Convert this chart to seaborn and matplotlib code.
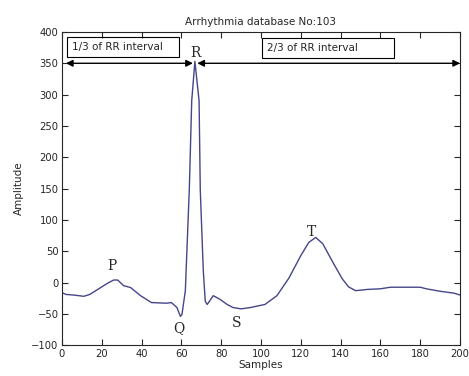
import pandas as pd
import seaborn as sns
import matplotlib.pyplot as plt

sns.set_style("ticks")
plt.rcParams['font.family'] = ['DejaVu Sans']

# ECG beat
samples = [0, 2, 6, 11, 14, 19.5, 23, 26, 28, 31, 34.5, 39.5, 45, 52.5, 55, 57.8,
           59.5, 60.3, 62, 64, 65.2, 66.8, 68.9, 69.5, 71, 72, 73, 76, 79.5, 83, 86,
           90, 94.5, 102, 108, 114, 120, 124, 127.5, 131, 136.5, 140.8, 144, 147.5,
           153.5, 160, 165, 172, 180, 183, 190, 197, 200]
amplitude = [-16, -19, -20, -22, -19, -8, -1, 4, 4, -5, -8, -21, -32, -33, -32, -40,
             -54, -51, -13, 150, 290, 353, 290, 148, 20, -30, -35, -21, -27, -35, -40,
             -42, -40, -35, -21, 7, 43, 64, 72, 62, 30, 6, -7, -13,
             -11, -10, -7.5, -7.5, -7.5, -10, -14, -17, -20]

wave_names = ['P', 'Q', 'R', 'S', 'T']
wave_x = [25, 59, 67, 88, 125.5]
wave_y = [27, -73, 367, -65, 80]

df = pd.DataFrame({'Samples': samples, 'Amplitude': amplitude})

fig = plt.figure(figsize=(4.69, 3.76), dpi=100)
ax = fig.add_axes([0.132, 0.082, 0.849, 0.833])
sns.lineplot(data=df, x='Samples', y='Amplitude', color='#45458a', lw=1, ax=ax)

ax.set_xlim(0, 200)
ax.set_ylim(-100, 400)
ax.set_xticks(range(0, 201, 20))
ax.set_yticks(range(-100, 401, 50))
ax.tick_params(direction='in', top=True, right=True, labelsize=7.2, length=4, width=0.8,
               pad=2.5)
for s in ax.spines.values():
    s.set_linewidth(0.8)
ax.set_title('Arrhythmia database No:103', fontsize=7.5, pad=5)
ax.set_xlabel('Samples', fontsize=7.5, labelpad=1)
ax.set_ylabel('Amplitude', fontsize=7.5, labelpad=5)

for n, x, y in zip(wave_names, wave_x, wave_y):
    ax.text(x, y, n, family='serif', fontsize=10, ha='center', va='center')

# RR interval arrows
ax.annotate('', xy=(2, 350), xytext=(65.8, 350),
            arrowprops=dict(arrowstyle='<|-|>', color='black', lw=1, mutation_scale=10,
                            shrinkA=0, shrinkB=0))
ax.annotate('', xy=(68, 350), xytext=(200, 350),
            arrowprops=dict(arrowstyle='<|-|>', color='black', lw=1, mutation_scale=10,
                            shrinkA=0, shrinkB=0))
ax.add_patch(plt.Rectangle((2.5, 360), 56.5, 32, fill=False, edgecolor='black',
                           lw=0.8, clip_on=False))
ax.text(5, 376, '1/3 of RR interval', fontsize=7.5, va='center')
ax.add_patch(plt.Rectangle((100.5, 358), 66.5, 32, fill=False, edgecolor='black',
                           lw=0.8, clip_on=False))
ax.text(103, 374, '2/3 of RR interval', fontsize=7.5, va='center')

plt.savefig('out.png', dpi=100)
